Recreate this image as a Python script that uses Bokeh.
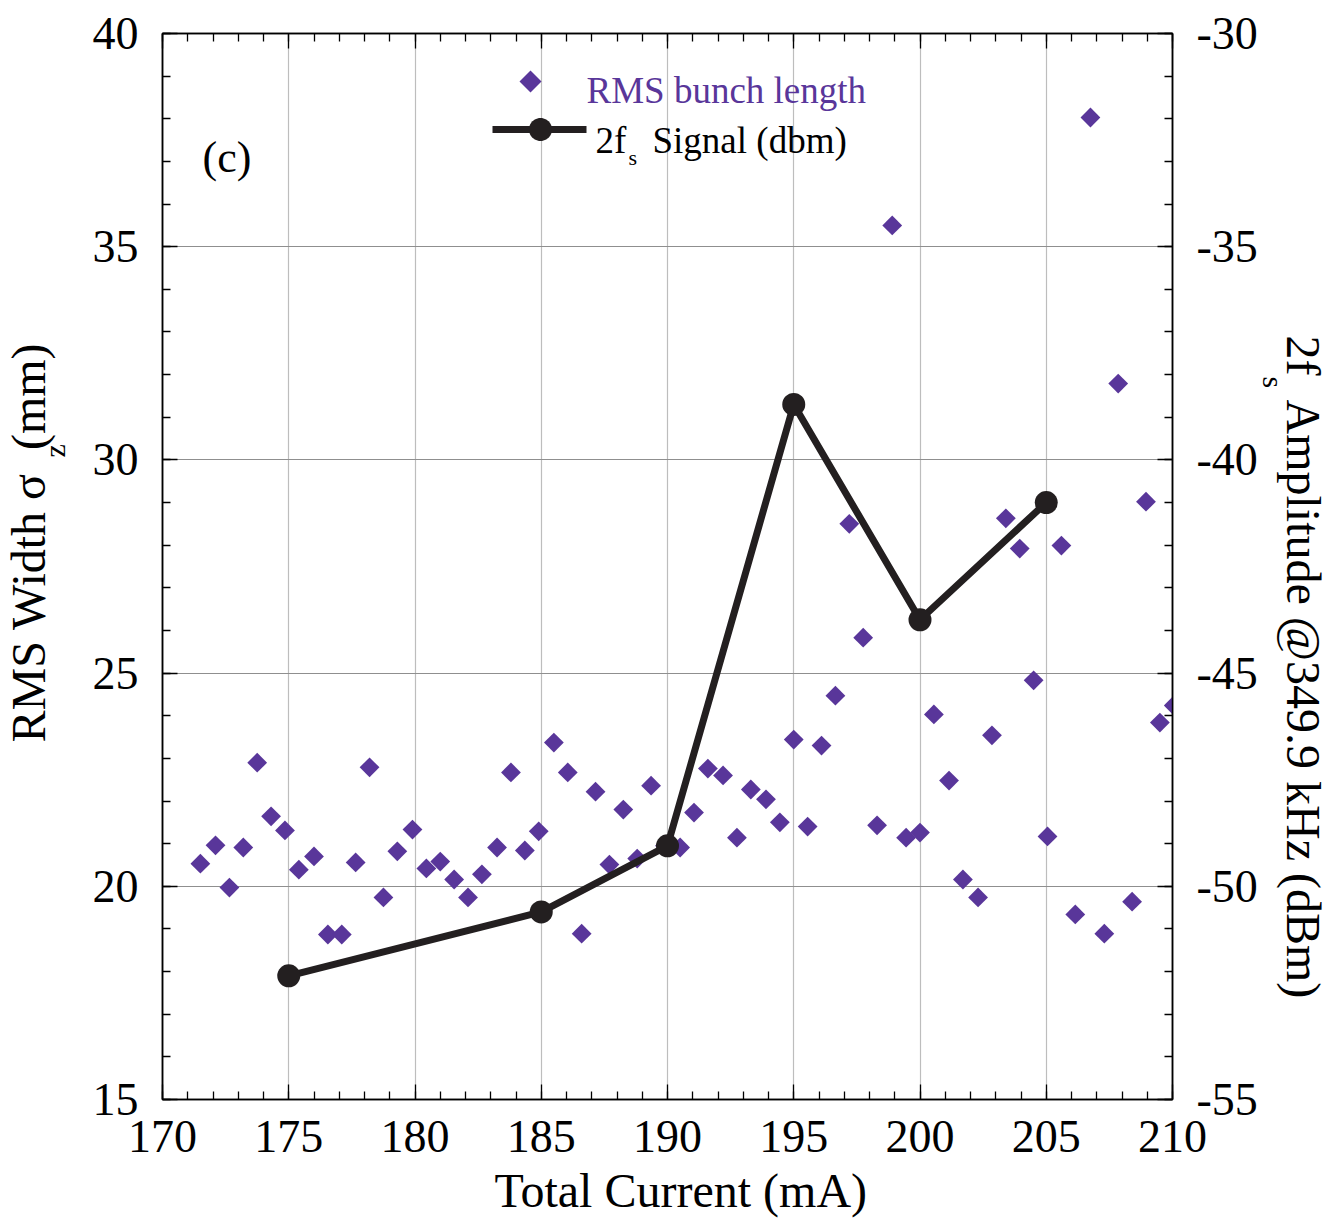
import numpy as np
from bokeh.plotting import figure
from bokeh.models import (Range1d, LinearAxis, Label, PolyAnnotation, FixedTicker, Title,
                          CustomJSTickFormatter)
from bokeh.embed import file_html
from bokeh.resources import INLINE

# ---------------- data ----------------
current_ma = [171.5, 172.1, 172.65, 173.2, 173.75, 174.3, 174.85, 175.4, 176.0, 176.55,
              177.1, 177.65, 178.2, 178.75, 179.3, 179.9, 180.45, 181.0, 181.55, 182.1,
              182.65, 183.25, 183.8, 184.35, 184.9, 185.5, 186.05, 186.6, 187.15, 187.7,
              188.25, 188.8, 189.35, 189.9, 190.5, 191.05, 191.6, 192.2, 192.75, 193.3,
              193.9, 194.45, 195.0, 195.55, 196.1, 196.65, 197.2, 197.75, 198.3, 198.9,
              199.45, 200.0, 200.55, 201.15, 201.7, 202.3, 202.85, 203.4, 203.95, 204.5,
              205.05, 205.6, 206.15, 206.75, 207.3, 207.85, 208.4, 208.95, 209.5, 210.05]
rms_width_mm = [20.53, 20.96, 19.97, 20.91, 22.9, 21.64, 21.31, 20.39, 20.7, 18.87,
                18.87, 20.56, 22.79, 19.74, 20.82, 21.33, 20.42, 20.58, 20.16, 19.74,
                20.28, 20.91, 22.67, 20.84, 21.29, 23.37, 22.67, 18.89, 22.22, 20.51,
                21.8, 20.65, 22.36, 20.95, 20.91, 21.73, 22.76, 22.6, 21.14, 22.27,
                22.04, 21.5, 23.44, 21.4, 23.3, 24.47, 28.5, 25.83, 21.43, 35.5,
                21.14, 21.26, 24.03, 22.48, 20.16, 19.74, 23.54, 28.63, 27.92, 24.83,
                21.17, 27.99, 19.34, 38.03, 18.89, 31.79, 19.64, 29.02, 23.84, 24.24]

sig_current_ma = [175, 185, 190, 195, 200, 205]
sig_dbm = [-52.1, -50.6, -49.05, -38.7, -43.75, -41.0]

x_major = [170, 175, 180, 185, 190, 195, 200, 205, 210]
x_minor = list(range(170, 211))
left_major = [15, 20, 25, 30, 35, 40]
left_minor = list(range(15, 41))
right_major = [-55, -50, -45, -40, -35, -30]
right_minor = list(range(-55, -29))

PURPLE = "#59369a"
BLACK = "#231f20"
FONT = "Liberation Serif"

# ---------------- layout ----------------
W, H = 1343, 1225
FL, FR, FT, FB = 162, 1172, 33, 1099          # frame edges in canvas px


def sx(px):
    return px - FL


def sy(py):
    return FB - py


p = figure(width=W, height=H, x_range=Range1d(170, 210), y_range=Range1d(15, 40),
           output_backend="svg", toolbar_location=None,
           min_border_left=FL, min_border_right=W - FR,
           min_border_top=FT, min_border_bottom=H - FB)
p.extra_y_ranges = {"sig": Range1d(-55, -30)}
p.background_fill_color = "white"
p.border_fill_color = "white"
p.outline_line_color = "black"
p.outline_line_width = 1.5

bottom_axis = p.below[0]
left_axis = p.left[0]
top_axis = LinearAxis()
right_axis = LinearAxis(y_range_name="sig")
p.add_layout(top_axis, "above")
p.add_layout(right_axis, "right")

bottom_axis.ticker = FixedTicker(ticks=x_major, minor_ticks=x_minor)
top_axis.ticker = FixedTicker(ticks=x_major, minor_ticks=x_minor)
left_axis.ticker = FixedTicker(ticks=left_major, minor_ticks=left_minor)
right_axis.ticker = FixedTicker(ticks=right_major, minor_ticks=right_minor)
right_axis.formatter = CustomJSTickFormatter(code="return tick.toFixed(0)")
top_axis.formatter = CustomJSTickFormatter(code="return ''")

for ax in [bottom_axis, top_axis, left_axis, right_axis]:
    ax.axis_line_color = "black"
    ax.axis_line_width = 1.5
    ax.major_tick_in = 15
    ax.major_tick_out = 0
    ax.minor_tick_in = 8
    ax.minor_tick_out = 0
    ax.major_tick_line_color = "black"
    ax.minor_tick_line_color = "black"
    ax.major_tick_line_width = 1.3
    ax.minor_tick_line_width = 1.3
    ax.major_label_text_font = FONT
    ax.major_label_text_font_size = "46px"
    ax.major_label_text_color = "black"

top_axis.major_label_text_font_size = "0px"
top_axis.major_label_standoff = 0
bottom_axis.major_label_standoff = 21
left_axis.major_label_standoff = 24
right_axis.major_label_standoff = 24

p.xgrid.grid_line_color = "#bdbdbd"
p.xgrid.grid_line_width = 1.2
p.ygrid.grid_line_color = "#8f8f8f"
p.ygrid.grid_line_width = 1.2

# ---------------- data marks ----------------
p.scatter(current_ma, rms_width_mm, marker="square", size=14, angle=np.pi / 4,
          fill_color=PURPLE, line_color=None)
p.line(sig_current_ma, sig_dbm, y_range_name="sig", line_width=7, line_color=BLACK,
       line_join="round")
p.scatter(sig_current_ma, sig_dbm, y_range_name="sig", marker="circle", size=23,
          fill_color=BLACK, line_color=None)


# ---------------- axis titles (side panels) ----------------
def side_title(text, size, place, offset, standoff, valign="bottom"):
    t = Title(text=text, align="left", offset=offset, standoff=0,
              vertical_align=valign, text_font=FONT, text_font_size=size,
              text_font_style="normal", text_color="black")
    try:
        t.standoff = standoff
    except Exception:
        t.standoff = max(standoff, 0)
    p.add_layout(t, place)


# left: RMS Width σz(mm)
side_title("z", "30px", "left", FB - 457, 37)
side_title("RMS Width σ\u00a0\u00a0(mm)", "48px", "left", FB - 742, -74)
# right: 2fs Amplitude @349.9 kHz (dBm)
side_title("s", "30px", "right", 376 - FT, -7)
side_title("2f\u00a0\u00a0Amplitude @349.9 kHz (dBm)", "48px", "right", 335 - FT, -24)
# bottom
side_title("Total Current (mA)", "48px", "below", 494 - FL, 14)


# ---------------- texts inside the frame ----------------
def lab(x, y, text, size, color="black", align="left", baseline="alphabetic"):
    p.add_layout(Label(x=sx(x), y=sy(y), x_units="screen", y_units="screen", text=text,
                       text_font=FONT, text_font_size=size, text_color=color,
                       text_align=align, text_baseline=baseline))


lab(202, 157, "(c)", "44px", baseline="middle")

# legend
cx, cy = 530, 81
p.add_layout(PolyAnnotation(xs=[sx(cx - 11), sx(cx), sx(cx + 11), sx(cx)],
                            ys=[sy(cy), sy(cy - 11), sy(cy), sy(cy + 11)],
                            xs_units="screen", ys_units="screen",
                            fill_color=PURPLE, fill_alpha=1, line_color=None))
lab(586, 90, "RMS bunch length", "37px", color=PURPLE)

ly = 129
p.add_layout(PolyAnnotation(xs=[sx(492), sx(586), sx(586), sx(492)],
                            ys=[sy(ly - 3.5), sy(ly - 3.5), sy(ly + 3.5), sy(ly + 3.5)],
                            xs_units="screen", ys_units="screen",
                            fill_color=BLACK, fill_alpha=1, line_color=None))
ang = np.linspace(0, 2 * np.pi, 48, endpoint=False)
p.add_layout(PolyAnnotation(xs=[sx(540 + 11.5 * np.cos(a)) for a in ang],
                            ys=[sy(ly + 11.5 * np.sin(a)) for a in ang],
                            xs_units="screen", ys_units="screen",
                            fill_color=BLACK, fill_alpha=1, line_color=None))
lab(595, 140, "2f", "37px")
lab(628, 157, "s", "22px")
lab(652, 140, "Signal (dbm)", "37px")

open("out.html", "w").write(file_html(p, INLINE))
